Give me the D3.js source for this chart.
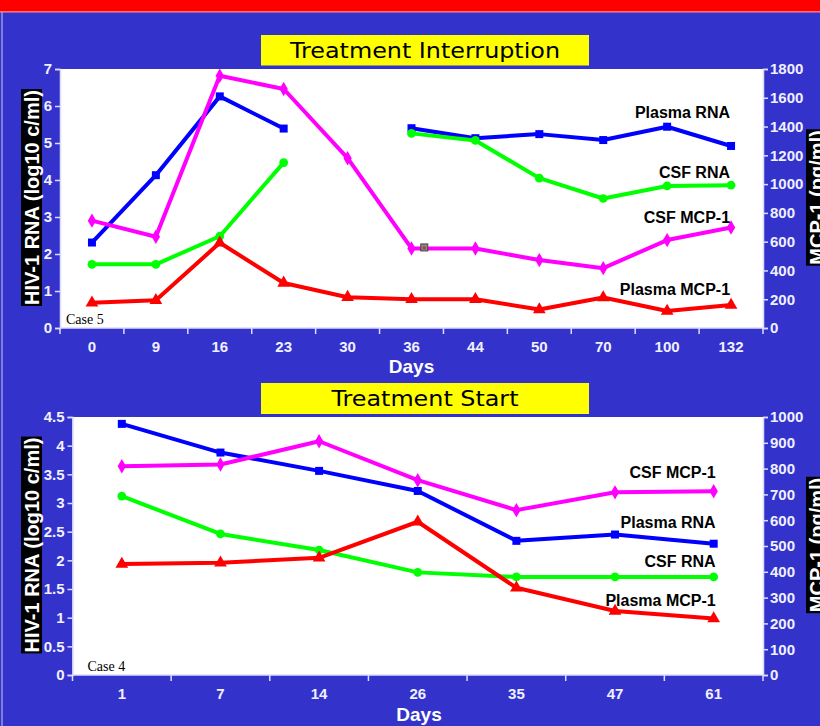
<!DOCTYPE html>
<html>
<head>
<meta charset="utf-8">
<script src="https://cdn.jsdelivr.net/npm/d3@7/dist/d3.min.js"></script>
<style>
  html, body { margin: 0; padding: 0; background: #3333CC; }
  svg { display: block; }
</style>
</head>
<body>
<div id="chart"></div>
<script>
// ---------------- DATA ----------------
// Panel 1: Treatment Interruption (Case 5)
const interruptionDays = ["0", "9", "16", "23", "30", "36", "44", "50", "70", "100", "132"];
const interruptionPlasmaRNA = [2.31, 4.13, 6.26, 5.39, null, 5.40, 5.13, 5.24, 5.08, 5.44, 4.92]; // log10 c/ml
const interruptionCsfRNA    = [1.72, 1.72, 2.48, 4.47, null, 5.26, 5.07, 4.05, 3.50, 3.84, 3.86]; // log10 c/ml
const interruptionCsfMCP1   = [746, 634, 1753, 1661, 1180, 553, 553, 472, 416, 611, 699];          // pg/ml
const interruptionPlasmaMCP1 = [175, 193, 592, 313, 214, 200, 200, 128, 212, 118, 160];            // pg/ml
const interruptionLeftTicks = [0, 1, 2, 3, 4, 5, 6, 7];
const interruptionRightTicks = [0, 200, 400, 600, 800, 1000, 1200, 1400, 1600, 1800];

// Panel 2: Treatment Start (Case 4)
const startDays = ["1", "7", "14", "26", "35", "47", "61"];
const startPlasmaRNA = [4.38, 3.88, 3.56, 3.21, 2.34, 2.45, 2.29];
const startCsfRNA    = [3.12, 2.46, 2.18, 1.79, 1.71, 1.71, 1.71];
const startCsfMCP1   = [809, 816, 906, 755, 639, 708, 712];
const startPlasmaMCP1 = [430, 435, 454, 594, 338, 248, 219];
const startLeftTicks = [0, 0.5, 1, 1.5, 2, 2.5, 3, 3.5, 4, 4.5];
const startRightTicks = [0, 100, 200, 300, 400, 500, 600, 700, 800, 900, 1000];

// stray marker seen in panel 1 (between day 36 and 44)
const strayMarker = { day: "36", frac: 0.7, mcp: 560 };

// ---------------- LAYOUT ----------------
const W = 820, H = 726;
const BG = "#3333CC";
const AXIS_COLOR = "#DDDDFF";
const TICK_TEXT = "#F0F0FF";
const SANS = "'Liberation Sans', Arial, sans-serif";

const seriesStyle = {
  plasmaRNA:  { color: "#0000FF", symbol: d3.symbolSquare,   size: 64,  axis: "left",  label: "Plasma RNA" },
  csfRNA:     { color: "#00FF00", symbol: d3.symbolCircle,   size: 60,  axis: "left",  label: "CSF RNA" },
  csfMCP1:    { color: "#FF00FF", symbol: d3.symbolDiamond,  size: 60,  axis: "right", label: "CSF MCP-1" },
  plasmaMCP1: { color: "#FF0000", symbol: d3.symbolTriangle, size: 70,  axis: "right", label: "Plasma MCP-1" }
};

const panels = [
  {
    title: "Treatment Interruption", titleBox: [261, 35, 328, 30.5], titleLen: 270,
    caseLabel: "Case 5",
    left: 60, right: 763, top: 69, bottom: 328,
    days: interruptionDays,
    leftDomain: [0, 7], rightDomain: [0, 1800],
    leftTicks: interruptionLeftTicks, rightTicks: interruptionRightTicks,
    curve: d3.curveLinear,
    order: ["plasmaRNA", "csfMCP1", "csfRNA", "plasmaMCP1"],
    data: { plasmaRNA: interruptionPlasmaRNA, csfRNA: interruptionCsfRNA, csfMCP1: interruptionCsfMCP1, plasmaMCP1: interruptionPlasmaMCP1 },
    // label baselines, expressed in left-axis units
    labelAt: { plasmaRNA: 5.68, csfRNA: 4.06, csfMCP1: 2.83, plasmaMCP1: 0.90 },
    labelShift: -1,
    yTitleCenter: 197.5,
    daysX: 411.5, daysY: 373,
    stray: true
  },
  {
    title: "Treatment Start", titleBox: [261, 383, 328, 31], titleLen: 187,
    caseLabel: "Case 4",
    left: 72.5, right: 763, top: 417, bottom: 675,
    days: startDays,
    leftDomain: [0, 4.5], rightDomain: [0, 1000],
    leftTicks: startLeftTicks, rightTicks: startRightTicks,
    curve: d3.curveLinear,
    order: ["plasmaRNA", "csfMCP1", "csfRNA", "plasmaMCP1"],
    data: { plasmaRNA: startPlasmaRNA, csfRNA: startCsfRNA, csfMCP1: startCsfMCP1, plasmaMCP1: startPlasmaMCP1 },
    labelAt: { csfMCP1: 3.43, plasmaRNA: 2.56, csfRNA: 1.88, plasmaMCP1: 1.20 },
    labelShift: 2,
    yTitleCenter: 545,
    daysX: 419, daysY: 721,
    stray: false
  }
];

// ---------------- DRAW ----------------
const svg = d3.select("#chart").append("svg")
  .attr("width", W).attr("height", H)
  .attr("viewBox", `0 0 ${W} ${H}`);

svg.append("rect").attr("width", W).attr("height", H).attr("fill", BG);
// top red banner
svg.append("rect").attr("x", 0).attr("y", 0).attr("width", W).attr("height", 11).attr("fill", "#FF0000");
svg.append("rect").attr("x", 0).attr("y", 11).attr("width", W).attr("height", 1.6).attr("fill", "#FF7070");
// thin left frame line
svg.append("line").attr("x1", 2).attr("x2", 2).attr("y1", 12).attr("y2", H)
  .attr("stroke", "#C8C8F0").attr("stroke-width", 1);

panels.forEach(p => {
  const g = svg.append("g");

  const x = d3.scaleBand().domain(p.days).range([p.left, p.right]).paddingInner(0).paddingOuter(0);
  const cx = d => x(d) + x.bandwidth() / 2;
  const yL = d3.scaleLinear().domain(p.leftDomain).range([p.bottom, p.top]);
  const yR = d3.scaleLinear().domain(p.rightDomain).range([p.bottom, p.top]);

  // title box
  const [tx, ty, tw, th] = p.titleBox;
  g.append("rect").attr("x", tx).attr("y", ty).attr("width", tw).attr("height", th).attr("fill", "#FFFF00");
  g.append("text").attr("x", tx + tw / 2).attr("y", ty + th / 2 + 7.5)
    .attr("text-anchor", "middle")
    .attr("font-family", "'DejaVu Sans', Verdana, sans-serif")
    .attr("font-size", 21).attr("fill", "#000")
    .attr("textLength", p.titleLen).attr("lengthAdjust", "spacingAndGlyphs")
    .text(p.title);

  // plot area
  g.append("rect").attr("x", p.left).attr("y", p.top)
    .attr("width", p.right - p.left).attr("height", p.bottom - p.top).attr("fill", "#FFFFFF");

  // left axis
  const axL = g.append("g").attr("transform", `translate(${p.left},0)`)
    .call(d3.axisLeft(yL).tickValues(p.leftTicks).tickSize(5).tickPadding(3).tickFormat(d => String(d)));
  // right axis
  const axR = g.append("g").attr("transform", `translate(${p.right},0)`)
    .call(d3.axisRight(yR).tickValues(p.rightTicks).tickSize(5).tickPadding(2).tickFormat(d => String(d)));
  [axL, axR].forEach(ax => {
    ax.select(".domain").attr("stroke", AXIS_COLOR).attr("stroke-width", 1.5);
    ax.selectAll(".tick line").attr("stroke", AXIS_COLOR).attr("stroke-width", 1.5);
    ax.selectAll(".tick text").attr("fill", TICK_TEXT)
      .attr("font-family", SANS).attr("font-size", 15).attr("font-weight", "bold");
  });

  // x axis line and ticks at band boundaries
  g.append("line").attr("x1", p.left).attr("x2", p.right).attr("y1", p.bottom).attr("y2", p.bottom)
    .attr("stroke", AXIS_COLOR).attr("stroke-width", 1.5);
  const bounds = p.days.map(d => x(d)).concat([x.range()[1]]);
  g.selectAll(".xtick").data(bounds).enter().append("line")
    .attr("x1", d => d).attr("x2", d => d).attr("y1", p.bottom).attr("y2", p.bottom + 6)
    .attr("stroke", AXIS_COLOR).attr("stroke-width", 1.5);
  g.selectAll(".xlab").data(p.days).enter().append("text")
    .attr("x", d => cx(d)).attr("y", p.bottom + 23.5)
    .attr("text-anchor", "middle").attr("fill", TICK_TEXT)
    .attr("font-family", SANS).attr("font-size", 15).attr("font-weight", "bold")
    .text(d => d);

  // Days
  g.append("text").attr("x", p.daysX).attr("y", p.daysY)
    .attr("text-anchor", "middle").attr("fill", "#FFFFFF")
    .attr("font-family", SANS).attr("font-size", 19).attr("font-weight", "bold")
    .text("Days");

  // Case label
  g.append("text").attr("x", p.left + (p.days.length > 8 ? 6 : 15)).attr("y", p.bottom - 4)
    .attr("fill", "#000").attr("font-family", "'Liberation Serif', 'Times New Roman', serif")
    .attr("font-size", 14).text(p.caseLabel);

  // axis titles (white on black)
  function vTitle(cxPos, cyPos, txt) {
    const tg = g.append("g").attr("transform", `translate(${cxPos},${cyPos}) rotate(-90)`);
    const rect = tg.append("rect").attr("fill", "#000");
    const t = tg.append("text").attr("x", 0).attr("y", 0)
      .attr("text-anchor", "middle").attr("dy", "0.36em")
      .attr("fill", "#FFFFFF").attr("font-family", SANS)
      .attr("font-size", 20).attr("font-weight", "bold").text(txt);
    const len = t.node().getComputedTextLength();
    rect.attr("x", -len / 2 - 1).attr("y", -10.5).attr("width", len + 2).attr("height", 21);
  }
  vTitle(31.5, p.yTitleCenter, "HIV-1 RNA (log10 c/ml)");
  vTitle(816.5, p.yTitleCenter, "MCP-1 (pg/ml)");

  // series lines and markers
  p.order.forEach(key => {
    const st = seriesStyle[key];
    const ys = st.axis === "left" ? yL : yR;
    const vals = p.data[key].map((v, i) => ({ day: p.days[i], v }));
    const line = d3.line()
      .defined(d => d.v !== null)
      .x(d => cx(d.day)).y(d => ys(d.v))
      .curve(p.curve);
    g.append("path").datum(vals)
      .attr("d", line).attr("fill", "none")
      .attr("stroke", st.color).attr("stroke-width", 4)
      .attr("stroke-linejoin", "round");
    g.selectAll(null).data(vals.filter(d => d.v !== null)).enter().append("path")
      .attr("transform", d => `translate(${cx(d.day)},${ys(d.v)})`)
      .attr("d", d3.symbol().type(st.symbol).size(st.size))
      .attr("fill", st.color);
  });

  // series labels
  Object.keys(p.labelAt).forEach(key => {
    g.append("text")
      .attr("x", cx(p.days[p.days.length - 1]) + p.labelShift)
      .attr("y", yL(p.labelAt[key]))
      .attr("text-anchor", "end").attr("fill", "#000")
      .attr("font-family", SANS).attr("font-size", 16).attr("font-weight", "bold")
      .text(seriesStyle[key].label);
  });

  if (p.stray) {
    const sx = x(strayMarker.day) + x.bandwidth() * strayMarker.frac;
    const sy = yR(strayMarker.mcp);
    g.append("rect").attr("x", sx - 3.5).attr("y", sy - 3.5).attr("width", 7).attr("height", 7)
      .attr("fill", "#8a8a8a").attr("stroke", "#444").attr("stroke-width", 1);
    g.append("rect").attr("x", sx - 1.5).attr("y", sy - 1).attr("width", 3).attr("height", 3)
      .attr("fill", "#b04040");
  }
});
</script>
</body>
</html>
